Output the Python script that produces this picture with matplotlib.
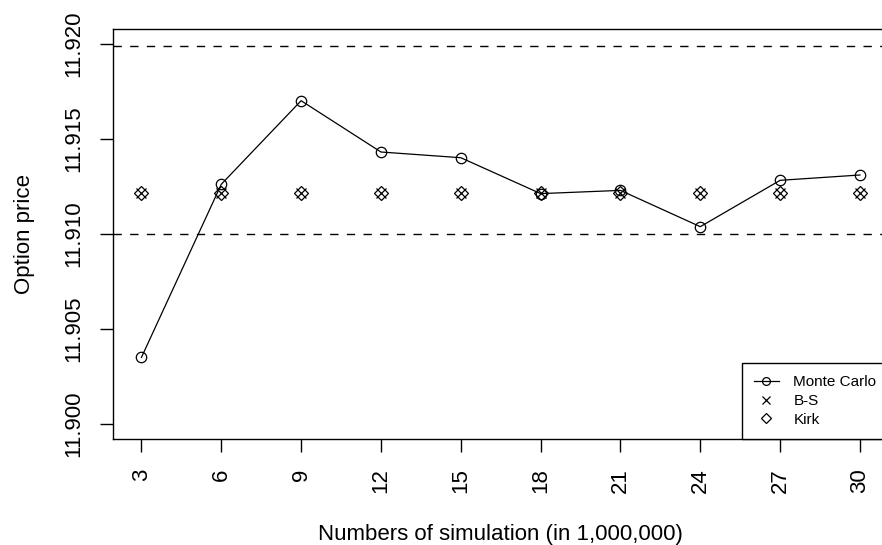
import matplotlib
matplotlib.use("Agg")
import matplotlib.pyplot as plt

plt.rcParams['font.family'] = ['Liberation Sans', 'DejaVu Sans']

# Data
sims = [3, 6, 9, 12, 15, 18, 21, 24, 27, 30]
monte_carlo = [11.90349, 11.91260, 11.91700, 11.91430, 11.91400,
               11.91211, 11.91228, 11.91037, 11.91281, 11.91309]
bs_price = [11.91212] * len(sims)
kirk_price = [11.91212] * len(sims)
upper_bound = 11.91989
lower_bound = 11.91000
yticks = [11.900, 11.905, 11.910, 11.915, 11.920]
ytick_labels = ["11.900", "11.905", "11.910", "11.915", "11.920"]

fig = plt.figure(figsize=(8.82, 5.45), dpi=100)
ax = fig.add_axes([0.12778, 0.19450, 0.87982, 0.75229])

ax.plot(sims, monte_carlo, color='black', lw=0.9, marker='o', ms=7.5,
        mfc='none', mec='black', mew=0.9, label='Monte Carlo')
ax.plot(sims, bs_price, ls='none', marker='x', ms=6.8, mec='black',
        mew=0.9, label='B-S')
ax.plot(sims, kirk_price, ls='none', marker='D', ms=6.8, mfc='none',
        mec='black', mew=0.9, label='Kirk')

ax.axhline(upper_bound, color='black', lw=1.0, ls=(0, (6, 6)))
ax.axhline(lower_bound, color='black', lw=1.0, ls=(0, (6, 6)))

ax.set_xlim(1.92, 31.08)
ax.set_ylim(11.899195, 11.920774)
ax.set_xticks(sims)
ax.set_xticklabels([str(s) for s in sims], rotation=90)
ax.set_yticks(yticks)
ax.set_yticklabels(ytick_labels, rotation=90, va='center')

ax.tick_params(axis='both', direction='out', length=9.6, width=1.0,
               labelsize=16, colors='black')
ax.tick_params(axis='x', pad=11.5)
ax.tick_params(axis='y', pad=10.7)
for sp in ax.spines.values():
    sp.set_linewidth(1.0)
    sp.set_color('black')

ax.set_xlabel("Numbers of simulation (in 1,000,000)", fontsize=16, labelpad=22)
ax.set_ylabel("Option price", fontsize=16, labelpad=20.5)

leg = ax.legend(loc='lower right', bbox_to_anchor=(1, 0), borderaxespad=0,
                fontsize=11, frameon=True, fancybox=False, edgecolor='black',
                framealpha=1, borderpad=0.8, labelspacing=0.32,
                handlelength=1.6, handletextpad=0.98, markerscale=0.75)
leg.get_frame().set_linewidth(1.0)

fig.savefig("out.png", dpi=100)
